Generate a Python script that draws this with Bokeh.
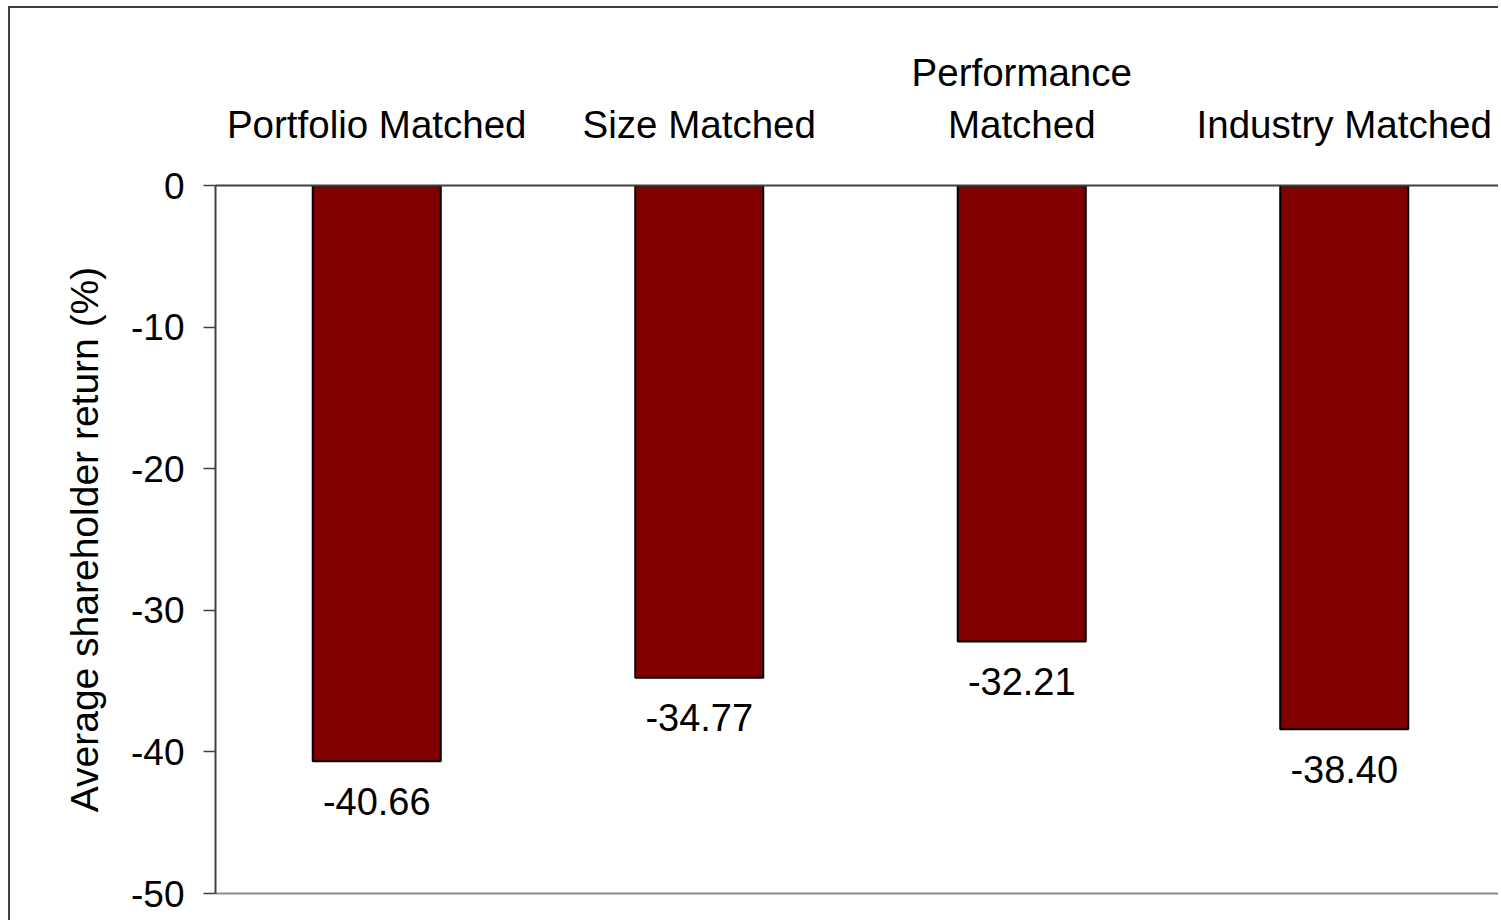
from bokeh.plotting import figure
from bokeh.models import Range1d, FixedTicker, LinearAxis, ColumnDataSource
from bokeh.embed import file_html
from bokeh.resources import INLINE

categories = ["Portfolio Matched", "Size Matched", "Performance\nMatched", "Industry Matched"]
values = [-40.66, -34.77, -32.21, -38.40]
y_ticks = [0, -10, -20, -30, -40, -50]

FONT = "Liberation Sans"
W, H = 1490, 914
OX, OY, B = 8, 6, 2          # offset of the outer chart border and its width
FL, FT, FB = 215, 185, 893   # plot-area edges in the picture
xs = [i + 0.5 for i in range(len(categories))]
src = ColumnDataSource(dict(x=xs, top=[0] * len(values), bottom=values,
                            label=["{:.2f}".format(v) for v in values]))

left = FL - OX - B
top = FT - OY - B
p = figure(width=W, height=H, output_backend="svg", toolbar_location=None,
           x_range=Range1d(0, (W - left) / 322.5), y_range=Range1d(-50, 0),
           x_axis_location="above", min_border_left=left, min_border_top=top,
           min_border_right=0, min_border_bottom=H - (FB - OY - B))
p.styles = {"margin-left": f"{OX}px", "margin-top": f"{OY}px",
            "border-left": f"{B}px solid #404040", "border-top": f"{B}px solid #404040"}
p.outline_line_color = None
p.grid.visible = False
p.background_fill_color = "white"
p.border_fill_color = "white"

p.vbar(x="x", top="top", bottom="bottom", width=0.397, source=src,
       fill_color="#800000", line_color="black", line_width=2)
p.text(x="x", y="bottom", text="label", source=src, text_align="center",
       text_baseline="alphabetic", y_offset=40, text_font_size="38px",
       text_color="black", text_font={"value": FONT})

xa = p.xaxis[0]
xa.ticker = FixedTicker(ticks=xs)
xa.major_label_overrides = {x: c for x, c in zip(xs, categories)}
xa.major_tick_out = 0
xa.major_tick_in = 0
xa.minor_tick_out = 0
xa.minor_tick_in = 0
xa.axis_line_color = "#404040"
xa.axis_line_width = 2
xa.major_label_text_font = FONT
xa.major_label_text_font_size = "38.5px"
xa.major_label_text_color = "black"
xa.major_label_standoff = 40

ya = p.yaxis[0]
ya.ticker = FixedTicker(ticks=y_ticks)
ya.major_label_overrides = {t: str(t) for t in y_ticks}
ya.axis_line_color = "#404040"
ya.axis_line_width = 2
ya.major_tick_out = 12
ya.major_tick_in = 0
ya.major_tick_line_color = "#404040"
ya.major_tick_line_width = 1.5
ya.minor_tick_out = 0
ya.minor_tick_in = 0
ya.major_label_text_font = FONT
ya.major_label_text_font_size = "37px"
ya.major_label_text_color = "black"
ya.major_label_standoff = 19
ya.axis_label = "Average shareholder return (%)"
ya.axis_label_text_font = FONT
ya.axis_label_text_font_size = "39px"
ya.axis_label_text_font_style = "normal"
ya.axis_label_text_color = "black"
ya.axis_label_standoff = 22

bottom_axis = LinearAxis(ticker=FixedTicker(ticks=[]), axis_line_color="#8c8c8c",
                         axis_line_width=2, major_tick_out=0, minor_tick_out=0,
                         major_tick_in=0, minor_tick_in=0,
                         major_label_text_font_size="0px")
p.add_layout(bottom_axis, "below")

open("out.html", "w").write(file_html(p, INLINE))
